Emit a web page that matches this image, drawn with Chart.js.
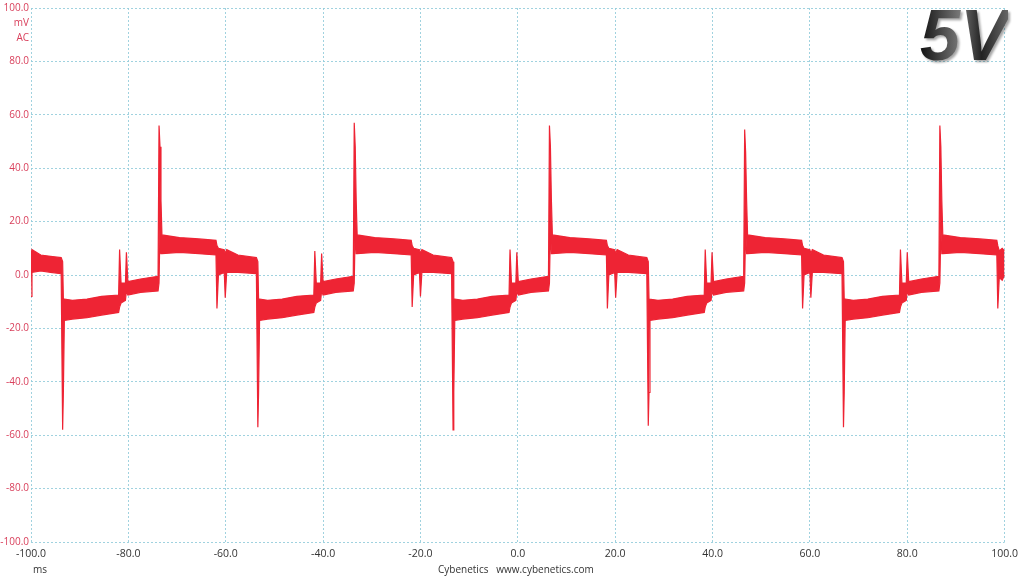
<!DOCTYPE html>
<html lang="en">
<head>
    <meta charset="UTF-8">
    <title>5V ripple</title>
    <script src="https://cdn.jsdelivr.net/npm/chart.js"></script>
    <style>
        html, body { margin: 0; padding: 0; background: #ffffff; }
        .wrap { position: relative; width: 1024px; height: 576px; }
        canvas { display: block; }
        .lbl { position: absolute; font-family: "Open Sans", Arial, sans-serif; font-size: 10px; }
        .unit { color: #d9405c; text-align: right; width: 29px; left: 0; }
        .title {
            position: absolute; right: 16px; top: -6px;
            font-family: "Liberation Sans", Arial, sans-serif;
            font-weight: bold; font-style: italic; font-size: 72px;
            background: linear-gradient(90deg, #111 0%, #777 45%, #222 70%, #666 100%);
            -webkit-background-clip: text; background-clip: text; color: transparent;
            filter: drop-shadow(2px 2px 1px rgba(0,0,0,0.35));
        }
    </style>
</head>
<body>
<div class="wrap">
    <canvas id="ripple" width="1024" height="576"></canvas>
    <div class="lbl unit" style="top:15px;">mV</div>
    <div class="lbl unit" style="top:30px;">AC</div>
    <div class="lbl" style="left:33px; top:562px; color:#333;">ms</div>
    <div class="lbl" style="left:438px; top:562px; color:#333;">Cybenetics&nbsp;&nbsp;&nbsp;www.cybenetics.com</div>
    <div class="title">5V</div>
</div>

<script>
    // time (ms) and the upper / lower edge of the noisy trace (mV)
    const timeMs = [
        -100, -99.8, -98, -96,
        -93.8, -93.5, -93.35, -93.15, -91.5, -88.5, -85.5, -82, -81.8, -81.5, -80.6, -80.4, -80.1, -77.5, -73.9,
        -73.7, -73.5, -73.3, -73.1, -69.5, -65.5, -62, -61.8, -61.5, -60.3, -60.1, -59.8, -57.5,
        -53.7, -53.4, -53.25, -53.05, -51.4, -48.4, -45.4, -41.9, -41.7, -41.4, -40.5, -40.3, -40.0, -37.4, -33.8,
        -33.6, -33.4, -33.2, -33.0, -29.4, -25.4, -21.9, -21.7, -21.4, -20.2, -20.0, -19.7, -17.4,
        -13.6, -13.3, -13.15, -12.95, -11.3, -8.3, -5.3, -1.8, -1.6, -1.3, -0.4, -0.2, 0.1, 2.7, 6.3,
        6.5, 6.7, 6.9, 7.1, 10.7, 14.7, 18.2, 18.4, 18.7, 19.9, 20.1, 20.4, 22.7,
        26.5, 26.8, 26.95, 27.15, 28.8, 31.8, 34.8, 38.3, 38.5, 38.8, 39.7, 39.9, 40.2, 42.8, 46.4,
        46.6, 46.8, 47.0, 47.2, 50.8, 54.8, 58.3, 58.5, 58.8, 60.0, 60.2, 60.5, 62.8,
        66.6, 66.9, 67.05, 67.25, 68.9, 71.9, 74.9, 78.4, 78.6, 78.9, 79.8, 80.0, 80.3, 82.9, 86.5,
        86.7, 86.9, 87.1, 87.3, 90.9, 94.9, 98.4, 98.6, 98.9, 99.5, 100
    ];
    const upperMv = [
        9, 9.5, 7.5, 7,
        6.5, 5, -9, -9, -9.5, -9, -8, -7.5, 9.5, -3, -3, 8.5, -2.5, -1.5, -0.5,
        56, 48, 28, 15, 14, 13.5, 13, 11, 10, 9.5, 8, 9.5, 7.5,
        6.5, 5, -9, -9, -9.5, -9, -8, -7.5, 9, -3, -3, 8, -2.5, -1.5, -0.5,
        57, 48, 28, 15, 14, 13.5, 13, 11, 10, 9.5, 8, 9.5, 7.5,
        6.5, 5, -9, -9, -9.5, -9, -8, -7.5, 9.5, -3, -3, 8.5, -2.5, -1.5, -0.5,
        56, 48, 28, 15, 14, 13.5, 13, 11, 10, 9.5, 8, 9.5, 7.5,
        6.5, 5, -9, -9, -9.5, -9, -8, -7.5, 9.5, -3, -3, 8.5, -2.5, -1.5, -0.5,
        54.5, 46, 28, 15, 14, 13.5, 13, 11, 10, 9.5, 8, 9.5, 7.5,
        6.5, 5, -9, -9, -9.5, -9, -8, -7.5, 9.5, -3, -3, 8.5, -2.5, -1.5, -0.5,
        56, 48, 28, 15, 14, 13.5, 13, 11, 9, 10, 9
    ];
    const lowerMv = [
        -8, 1, 1.5, 1,
        0.5, -58, -44, -17, -16.5, -16, -15, -14, -12, -10.5, -9.5, -6, -7.5, -6.5, -6,
        -3, 18, 8, 8, 8.5, 8, 7.5, -12.5, 0, 1, -8.5, 1, 1,
        0.5, -57, -44, -17, -16.5, -16, -15, -14, -12, -10.5, -9.5, -6, -7.5, -6.5, -6,
        -3, 18, 8, 8, 8.5, 8, 7.5, -12, 0, 1, -8, 1, 1,
        0.5, -58, -44, -17, -16.5, -16, -15, -14, -12, -10.5, -9.5, -6, -7.5, -6.5, -6,
        -3, 18, 8, 8, 8.5, 8, 7.5, -12.5, 0, 1, -8.5, 1, 1,
        0.5, -56.5, -44, -17, -16.5, -16, -15, -14, -12, -10.5, -9.5, -6, -7.5, -6.5, -6,
        -3, 18, 8, 8, 8.5, 8, 7.5, -12.5, 0, 1, -8.5, 1, 1,
        0.5, -57, -44, -17, -16.5, -16, -15, -14, -12, -10.5, -9.5, -6, -7.5, -6.5, -6,
        -3, 18, 8, 8, 8.5, 8, 7.5, -12.5, -1, -2, 0
    ];

    const red = 'rgb(238, 36, 52)';
    const gridBlue = 'rgba(150, 205, 220, 0.9)';

    const upperPts = timeMs.map((t, i) => ({ x: t, y: upperMv[i] }));
    const lowerPts = timeMs.map((t, i) => ({ x: t, y: lowerMv[i] }));

    new Chart(document.getElementById('ripple').getContext('2d'), {
        type: 'line',
        data: {
            datasets: [
                {
                    data: upperPts,
                    borderColor: red,
                    backgroundColor: red,
                    borderWidth: 1.2,
                    pointRadius: 0,
                    tension: 0,
                    fill: '+1'
                },
                {
                    data: lowerPts,
                    borderColor: red,
                    backgroundColor: red,
                    borderWidth: 1.2,
                    pointRadius: 0,
                    tension: 0,
                    fill: false
                }
            ]
        },
        options: {
            responsive: false,
            animation: false,
            layout: { padding: { top: 8, right: 13, left: 0, bottom: 0 } },
            plugins: { legend: { display: false }, tooltip: { enabled: false } },
            scales: {
                x: {
                    type: 'linear',
                    min: -100, max: 100,
                    grid: { color: gridBlue, drawTicks: false, lineWidth: 1 },
                    border: { display: false, dash: [2, 2] },
                    ticks: {
                        stepSize: 20,
                        padding: 6,
                        color: '#333',
                        font: { family: 'Open Sans', size: 10.5 },
                        callback: v => v.toFixed(1)
                    },
                    afterFit: s => { s.height = 34; }
                },
                y: {
                    min: -100, max: 100,
                    grid: { color: gridBlue, drawTicks: false, lineWidth: 1 },
                    border: { display: false, dash: [2, 2] },
                    ticks: {
                        stepSize: 20,
                        padding: 2,
                        color: '#d9405c',
                        font: { family: 'Open Sans', size: 10 },
                        callback: v => v.toFixed(1)
                    },
                    afterFit: s => { s.width = 31; }
                }
            }
        }
    });
</script>
</body>
</html>
